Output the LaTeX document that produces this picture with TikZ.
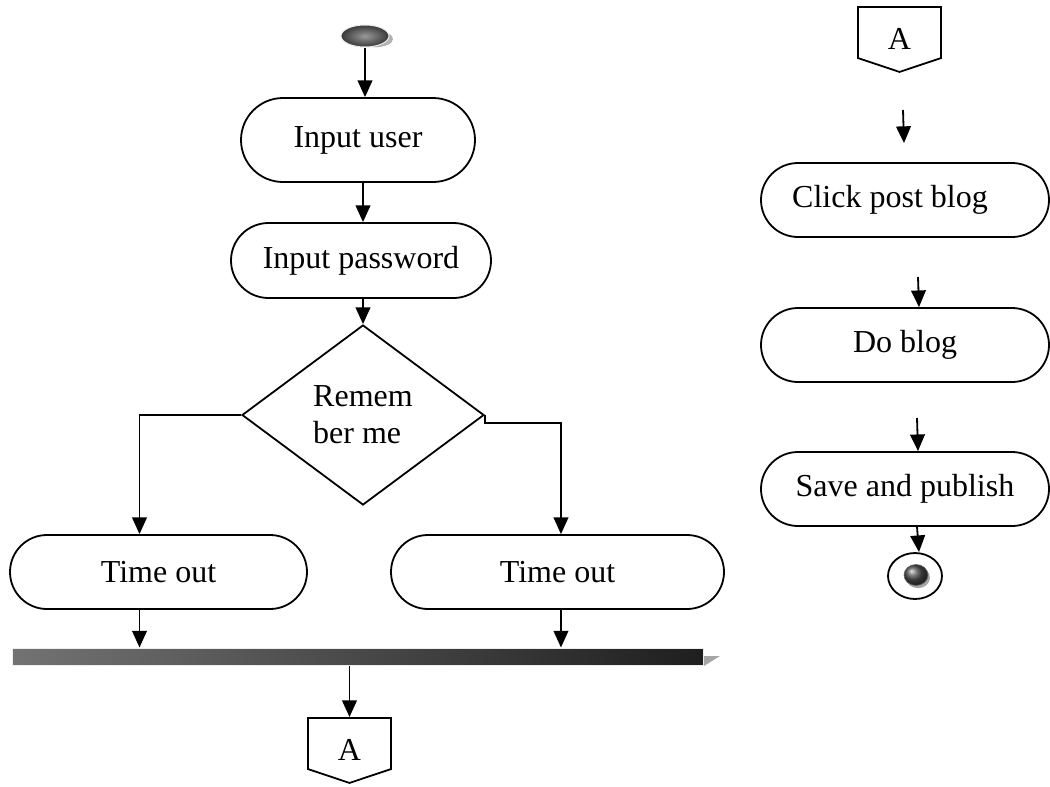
\documentclass[tikz,border=0pt]{standalone}
\usepackage{fontspec}
\setmainfont{Liberation Serif}
\usetikzlibrary{shapes.misc,shapes.geometric,shapes.symbols,arrows.meta,shadows}

\tikzset{every picture/.style={line width=1.35pt}}
\tikzset{
	flow/.style={-{Triangle[length=12.5pt,width=11pt]}},
	activity/.style={draw, rounded rectangle, minimum height=55.5pt, inner sep=0pt},
	decision/.style={draw, diamond, aspect=1.344, minimum width=181.5pt, minimum height=135pt, align=left, inner sep=0pt},
	offpage/.style={draw, signal, signal from=nowhere, signal to=south, signal pointer angle=143, minimum width=62.25pt, minimum height=41.25pt, inner sep=0pt},
	startnode/.style={ellipse, minimum width=36pt, minimum height=16.5pt, inner sep=0pt, draw=black!8, line width=0.75pt, inner color=black!40, outer color=black!78,
		drop shadow={shadow xshift=10pt, shadow yshift=-3pt, shadow scale=0.75, fill=black!30, opacity=1}},
	joinbar/.style={rectangle, minimum width=518.25pt, minimum height=12.75pt, inner sep=0pt, draw=black!7, line width=0.75pt, left color=black!55, right color=black!88},
	endring/.style={draw, ellipse, minimum width=40.5pt, minimum height=34.5pt, inner sep=0pt},
	endball/.style={ellipse, minimum width=18pt, minimum height=15.75pt, inner sep=0pt, draw=black!60, line width=0.5pt, ball color=black!70,
		drop shadow={shadow xshift=1.5pt, shadow yshift=-2pt, fill=black!35, opacity=1}}
}

\begin{document}
\begin{tikzpicture}[x=0.75pt,y=0.75pt,yscale=-1,xscale=1,font=\fontsize{24}{27.75}\selectfont]
	\useasboundingbox (0,0) rectangle (1050,786);

	%Shape: Start [id:start]
	\node [startnode] (start) at (365,36) {};
	%Shape: Activities, left column
	\node [activity, minimum width=175.5pt, minimum height=63pt] (user) at (358,140) {Input user};
	\node [activity, minimum width=195pt, minimum height=56.25pt] (pass) at (361,260.5) {Input password};
	\node [decision] (remember) at (363,415) {Remem\\ber me};
	\node [activity, minimum width=222.75pt] (tleft) at (158.5,572) {Time out};
	\node [activity, minimum width=249.75pt] (tright) at (557.5,572) {Time out};
	%Shape: Join bar
	\fill [black!35] (704,656) -- (720,656) -- (704,666) -- cycle;
	\node [joinbar] (bar) at (357.5,656.5) {};
	%Shape: Off-page connector
	\node [offpage] (offA) at (349.5,743.5) {\raisebox{-13pt}[0pt][0pt]{A}};

	%Shape: Off-page connector, right column
	\node [offpage] (offB) at (899.5,32.5) {\raisebox{-13pt}[0pt][0pt]{A}};
	%Shape: Activities, right column
	\node [activity, minimum width=216pt] (click) at (905,200) {Click post blog\hspace*{22.5pt}};
	\node [activity, minimum width=216pt] (doblog) at (905,345) {Do blog};
	\node [activity, minimum width=216pt] (save) at (905,489) {Save and publish};
	%Shape: End
	\node [endring] (finish) at (915,576) {};
	\node [endball] (finishball) at (916,575) {};

	\coordinate (c1a) at (903,110);
	\coordinate (c1b) at (904,143);
	\coordinate (c2a) at (918,277);
	\coordinate (c3a) at (917,418);

	%Straight Lines, left column
	\draw [flow] (start) -- (start |- user.north);
	\draw [flow] (remember |- user.south) -- (remember |- pass.north);
	\draw [flow] (remember |- pass.south) -- (remember.north);
	\draw [flow] (remember.west) -| ([xshift=-14.25pt]tleft.north);
	\draw [flow] (remember.east) -- ++(0,8) -| ([xshift=2.6pt]tright.north);
	\draw [flow] ([xshift=-14.25pt]tleft.south) -- ([xshift=-14.25pt]tleft.south |- bar.north);
	\draw [flow] ([xshift=2.6pt]tright.south) -- ([xshift=2.6pt]tright.south |- bar.north);
	\draw [flow] (bar.south -| offA) -- (offA.north);
	%Straight Lines, right column
	\draw [flow] (c1a) -- (c1b);
	\draw [flow] (c2a) -- (doblog.north -| 919,0);
	\draw [flow] (c3a) -- (save.north -| 918,0);
	\draw [flow] (save.south -| 917,0) -- (finish.north -| 919,0);

\end{tikzpicture}
\end{document}
